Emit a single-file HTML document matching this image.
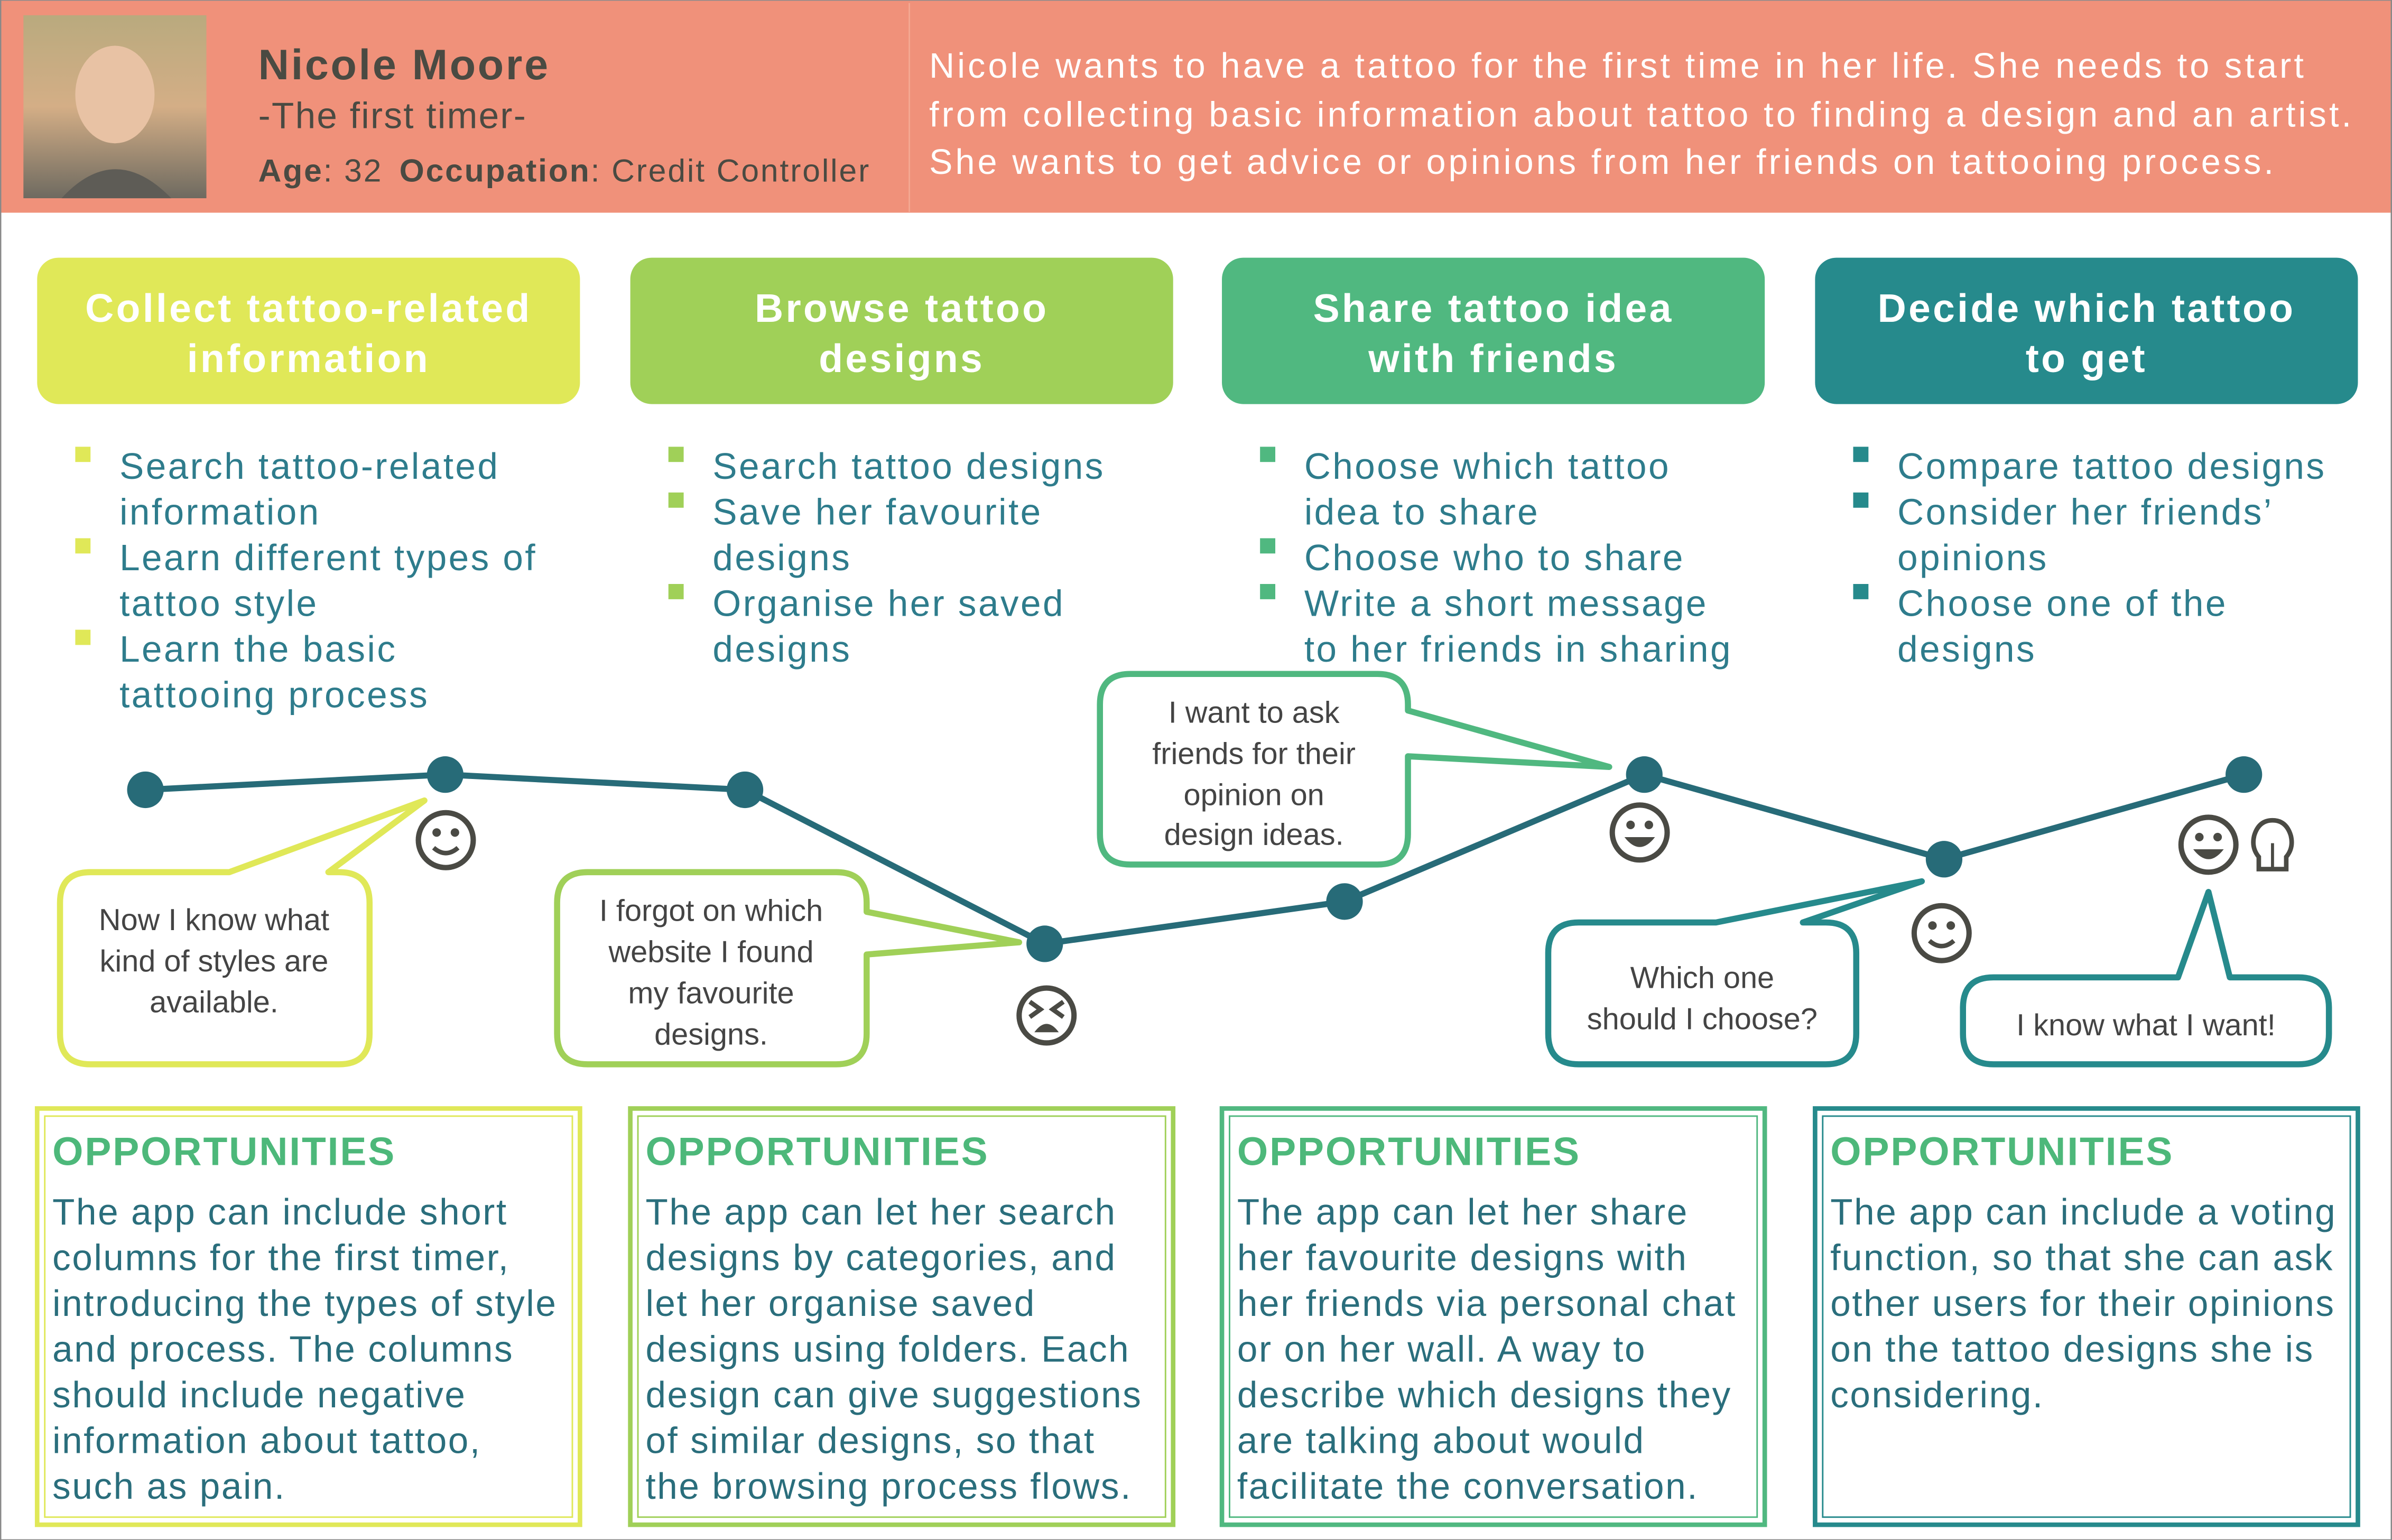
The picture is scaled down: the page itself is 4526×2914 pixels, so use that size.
<!DOCTYPE html>
<html><head><meta charset="utf-8"><style>
html,body{margin:0;padding:0;background:#fff;}
svg{display:block;font-family:"Liberation Sans",sans-serif;}
</style></head><body>
<svg id="root" width="4526" height="2914" viewBox="0 0 1568 1010" xmlns="http://www.w3.org/2000/svg">
<rect x="0" y="0" width="1568" height="1010" fill="#fff" stroke="#888" stroke-width="1"/>
<g>
<rect x="0.5" y="0.5" width="1567" height="139" fill="#F0917A"/>
<line x1="596" y1="2" x2="596" y2="139" stroke="#f4a892" stroke-width="1"/>
<defs><linearGradient id="ph" x1="0" y1="0" x2="0" y2="1"><stop offset="0" stop-color="#b9aa7e"/><stop offset="0.5" stop-color="#d4ae86"/><stop offset="1" stop-color="#6e6a60"/></linearGradient></defs>
<rect x="15" y="10" width="120" height="120" fill="url(#ph)"/>
<ellipse cx="75" cy="62" rx="26" ry="32" fill="#e8c2a4"/>
<path d="M40 130 Q75 92 112 130 Z" fill="#5e5c56"/>
<text x="169" y="52" font-size="28" font-weight="bold" fill="#4a4a42" letter-spacing="1.3">Nicole Moore</text>
<text x="169" y="84" font-size="24" fill="#4a4a42" letter-spacing="0.8">-The first timer-</text>
<text x="169" y="119" font-size="21" fill="#4a4a42" letter-spacing="1"><tspan font-weight="bold">Age</tspan>: 32 <tspan font-weight="bold" dx="4">Occupation</tspan>: Credit Controller</text>
<g font-size="23" fill="#fff" letter-spacing="1.8">
<text x="609" y="51">Nicole wants to have a tattoo for the first time in her life. She needs to start</text>
<text x="609" y="83">from collecting basic information about tattoo to finding a design and an artist.</text>
<text x="609" y="114">She wants to get advice or opinions from her friends on tattooing process.</text>
</g></g>
<g id="stages"></g>
<g id="chart"></g>
</svg>
<script>
const NS="http://www.w3.org/2000/svg";
const root=document.getElementById('root');
function el(tag,attrs,parent,txt){const e=document.createElementNS(NS,tag);for(const k in attrs)e.setAttribute(k,attrs[k]);if(txt!==undefined)e.textContent=txt;(parent||root).appendChild(e);return e;}
const colors=["#E0E858","#A0D058","#50B880","#268A8C"];
const stageX=[24,413,801,1190];
const titles=[["Collect tattoo-related","information"],["Browse tattoo","designs"],["Share tattoo idea","with friends"],["Decide which tattoo","to get"]];
const bullets=[
 [["Search tattoo-related","information"],["Learn different types of","tattoo style"],["Learn the basic","tattooing process"]],
 [["Search tattoo designs"],["Save her favourite","designs"],["Organise her saved","designs"]],
 [["Choose which tattoo","idea to share"],["Choose who to share"],["Write a short message","to her friends in sharing"]],
 [["Compare tattoo designs"],["Consider her friends’","opinions"],["Choose one of the","designs"]]];
const opps=[
 ["The app can include short","columns for the first timer,","introducing the types of style","and process. The columns","should include negative","information about tattoo,","such as pain."],
 ["The app can let her search","designs by categories, and","let her organise saved","designs using folders. Each","design can give suggestions","of similar designs, so that","the browsing process flows."],
 ["The app can let her share","her favourite designs with","her friends via personal chat","or on her wall. A way to","describe which designs they","are talking about would","facilitate the conversation."],
 ["The app can include a voting","function, so that she can ask","other users for their opinions","on the tattoo designs she is","considering."]];
const sg=document.getElementById('stages');
stageX.forEach((x,i)=>{
 const g=el('g',{},sg);
 
 
 const r=el('rect',{x:x,y:169,width:356,height:96,rx:14,fill:colors[i]},g);
 
 
 titles[i].forEach((t,j)=>{el('text',{x:x+178,y:211+j*33,'font-size':26,'font-weight':'bold',fill:'#fff','text-anchor':'middle','letter-spacing':1.5},g,t);});
 let ly=314;
 bullets[i].forEach(b=>{
  el('rect',{x:x+25,y:ly-21,width:10,height:10,fill:colors[i]},g);
  b.forEach(line=>{el('text',{x:x+54,y:ly,'font-size':24,fill:'#2E7C8C','letter-spacing':1.2},g,line);ly+=30;});
 });
 const og=el('g',{},sg);
 
 
 el('rect',{x:x,y:727,width:356,height:273,fill:'#fff',stroke:colors[i],'stroke-width':3},og);
 el('rect',{x:x+5,y:732,width:346,height:263,fill:'none',stroke:colors[i],'stroke-width':1},og);
 el('text',{x:x+10,y:764,'font-size':26,'font-weight':'bold',fill:'#4DB87A','letter-spacing':1},og,'OPPORTUNITIES');
 opps[i].forEach((l,j)=>{el('text',{x:x+10,y:803+j*30,'font-size':24,fill:'#2A6E7C','letter-spacing':0.9},og,l);});
});
// emotion chart data
const steps=[1,2,3,4,5,6,7,8];
const emotion=[9.1,10,9.1,0,2.5,10,5,10];
const xScale=s=>95+(s-1)*196.6;
const yScale=v=>619-v*11.1;
const cg=document.getElementById('chart');
const pts=steps.map((s,i)=>xScale(s)+','+yScale(emotion[i])).join(' ');
const line=el('polyline',{points:pts,fill:'none',stroke:'#276B78','stroke-width':4},cg);


steps.forEach((s,i)=>{
 const c=el('circle',{cx:xScale(s),cy:yScale(emotion[i]),r:12,fill:'#276B78'},cg);
 
 
});
// callouts
const callouts=[
 {c:colors[0],d:"M60 572 H150 L278 525 L215 572 H222 Q242 572 242 592 V678 Q242 698 222 698 H59 Q39 698 39 678 V592 Q39 572 59 572 Z",tx:140,ty:[610,637,664],t:["Now I know what","kind of styles are","available."]},
 {c:colors[1],d:"M385 572 H548 Q568 572 568 592 V598 L668 618 L568 626 V678 Q568 698 548 698 H385 Q365 698 365 678 V592 Q365 572 385 572 Z",tx:466,ty:[604,631,658,685],t:["I forgot on which","website I found","my favourite","designs."]},
 {c:colors[2],d:"M741 442 H903 Q923 442 923 462 V466 L1055 503 L923 496 V547 Q923 567 903 567 H741 Q721 567 721 547 V462 Q721 442 741 442 Z",tx:822,ty:[474,501,528,554],t:["I want to ask","friends for their","opinion on","design ideas."]},
 {c:colors[3],d:"M1035 605 H1125 L1260 578 L1182 605 H1197 Q1217 605 1217 625 V678 Q1217 698 1197 698 H1035 Q1015 698 1015 678 V625 Q1015 605 1035 605 Z",tx:1116,ty:[648,675],t:["Which one","should I choose?"]},
 {c:colors[3],d:"M1307 641 H1428 L1448 585 L1462 641 H1507 Q1527 641 1527 661 V678 Q1527 698 1507 698 H1307 Q1287 698 1287 678 V661 Q1287 641 1307 641 Z",tx:1407,ty:[679],t:["I know what I want!"]}];
callouts.forEach((o,i)=>{
 const g=el('g',{},cg);
 
 
 el('path',{d:o.d,fill:'#fff',stroke:o.c,'stroke-width':4,'stroke-linejoin':'round'},g);
 o.t.forEach((t,j)=>el('text',{x:o.tx,y:o.ty[j],'font-size':20,fill:'#444','text-anchor':'middle'},g,t));
});
// faces
function face(cx,cy,kind){
 const g=el('g',{},cg);
 
 
 el('circle',{cx:cx,cy:cy,r:18,fill:'#fff',stroke:'#4a4a44','stroke-width':3.5},g);
 if(kind==='sad'){
  el('path',{d:`M${cx-11} ${cy-9} l7 5 l-7 5 M${cx+11} ${cy-9} l-7 5 l7 5`,fill:'none',stroke:'#4a4a44','stroke-width':3},g);
  el('path',{d:`M${cx-8} ${cy+11} Q${cx} ${cy} ${cx+8} ${cy+11} Z`,fill:'#4a4a44'},g);
 } else {
  el('circle',{cx:cx-6,cy:cy-5,r:2.8,fill:'#4a4a44'},g);
  el('circle',{cx:cx+6,cy:cy-5,r:2.8,fill:'#4a4a44'},g);
  if(kind==='big') el('path',{d:`M${cx-10} ${cy+3} H${cx+10} Q${cx} ${cy+16} ${cx-10} ${cy+3} Z`,fill:'#4a4a44'},g);
  else el('path',{d:`M${cx-8} ${cy+5} Q${cx} ${cy+12} ${cx+8} ${cy+5}`,fill:'none',stroke:'#4a4a44','stroke-width':3},g);
 }
}
face(292,551,'smile');face(686,666,'sad');face(1075,546,'big');face(1273,612,'smile');face(1448,554,'big');
const b=el('g',{},cg);


el('path',{d:'M1481 562 Q1476 556 1478 548 Q1481 538 1490 538 Q1499 538 1502 548 Q1504 556 1499 562 V570 H1481 Z',fill:'#fff',stroke:'#4a4a44','stroke-width':3},b);
el('line',{x1:1490,y1:553,x2:1490,y2:570,stroke:'#4a4a44','stroke-width':2},b);
</script>
</body></html>
